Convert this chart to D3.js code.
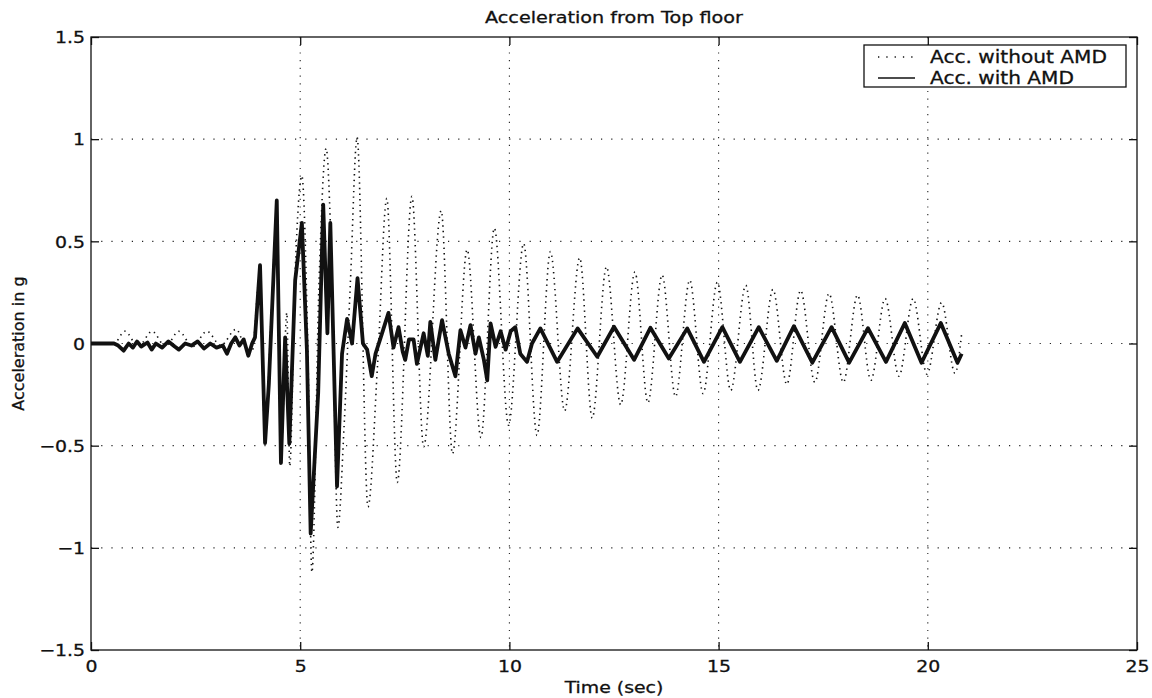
<!DOCTYPE html>
<html>
<head>
<meta charset="utf-8">
<script src="https://cdn.jsdelivr.net/npm/d3@7"></script>
<style>
  body { margin: 0; background: #fff; }
  text { font-family: "DejaVu Sans", sans-serif; fill: #111; stroke: #111; stroke-width: 0.3px; }
</style>
</head>
<body>
<div id="chart"></div>
<script>
// values (time in sec, acceleration in g)
const timeWithout = [0, 0.55, 0.81, 1.13, 1.46, 1.78, 2.10, 2.43, 2.77, 3.10, 3.47, 3.65, 3.85, 4.03, 4.16, 4.30,
  4.44, 4.55, 4.68, 4.75, 4.88, 5.04, 5.18, 5.28, 5.45, 5.62, 5.75, 5.90, 6.05, 6.20, 6.36, 6.62, 6.85, 7.07,
  7.32, 7.67, 7.95, 8.37, 8.64, 8.99, 9.32, 9.64, 9.98, 10.34, 10.66, 10.98, 11.32, 11.68, 11.98, 12.32, 12.66,
  13.00, 13.31, 13.65, 13.97, 14.31, 14.63, 14.97, 15.29, 15.65, 15.94, 16.30, 16.63, 16.96, 17.30, 17.64,
  17.98, 18.32, 18.64, 18.98, 19.31, 19.65, 19.98, 20.33, 20.65, 20.81];
const accWithout = [0, 0, 0.06, -0.015, 0.06, -0.015, 0.06, -0.015, 0.06, -0.01, 0.07, 0.0, -0.04, 0.33, -0.45, 0.1,
  0.62, -0.5, 0.15, -0.6, 0.35, 0.82, 0.0, -1.12, 0.3, 0.955, 0.4, -0.9, -0.4, 0.3, 1.01, -0.80, -0.1, 0.71,
  -0.68, 0.72, -0.505, 0.65, -0.54, 0.46, -0.46, 0.565, -0.40, 0.49, -0.45, 0.45, -0.33, 0.42, -0.365, 0.375, -0.30,
  0.35, -0.29, 0.335, -0.26, 0.31, -0.245, 0.30, -0.23, 0.285, -0.23, 0.265, -0.20, 0.26, -0.19, 0.245,
  -0.19, 0.237, -0.18, 0.22, -0.16, 0.22, -0.15, 0.20, -0.146, 0.05];

const timeWith = [0, 0.55, 0.65, 0.78, 0.90, 1.00, 1.10, 1.20, 1.35, 1.45, 1.55, 1.70, 1.85, 2.00, 2.10, 2.25,
  2.40, 2.55, 2.70, 2.85, 3.00, 3.15, 3.25, 3.35, 3.45, 3.55, 3.65, 3.76, 3.85, 3.92, 4.04, 4.16, 4.25, 4.44,
  4.54, 4.64, 4.74, 4.88, 5.04, 5.16, 5.25, 5.43, 5.55, 5.65, 5.72, 5.88, 6.00, 6.12, 6.24, 6.37, 6.50, 6.60,
  6.71, 6.80, 6.91, 7.11, 7.23, 7.35, 7.45, 7.51, 7.60, 7.71, 7.79, 7.95, 8.05, 8.11, 8.23, 8.39, 8.55, 8.71,
  8.83, 8.95, 9.07, 9.19, 9.27, 9.39, 9.47, 9.55, 9.67, 9.79, 9.91, 10.03, 10.14, 10.26, 10.42, 10.54, 10.74,
  11.14, 11.63, 12.10, 12.50, 12.98, 13.37, 13.81, 14.25, 14.65, 15.09, 15.51, 15.96, 16.39, 16.80, 17.24,
  17.70, 18.12, 18.57, 19.00, 19.45, 19.85, 20.31, 20.71, 20.81];
const accWith = [0, 0, -0.01, -0.035, 0.0, -0.02, 0.01, -0.015, 0.005, -0.03, 0.0, -0.02, 0.01, -0.015, -0.03, 0.0,
  -0.01, 0.01, -0.025, 0.0, -0.02, -0.01, -0.05, 0.0, 0.03, -0.01, 0.02, -0.06, 0.0, 0.03, 0.383, -0.487, -0.2, 0.70,
  -0.585, 0.03, -0.49, 0.31, 0.59, -0.03, -0.93, -0.24, 0.68, 0.05, 0.59, -0.70, -0.05, 0.12, 0.0, 0.32, 0.0, -0.03,
  -0.16, -0.05, 0.02, 0.15, -0.02, 0.08, -0.04, -0.08, 0.02, 0.02, -0.1, 0.05, -0.06, 0.106, -0.08, 0.114, -0.05, -0.16,
  0.065, -0.02, 0.09, -0.05, 0.03, -0.08, -0.18, 0.098, -0.016, 0.06, -0.03, 0.06, 0.08, -0.05, -0.09, 0.0, 0.074,
  -0.09, 0.074, -0.065, 0.082, -0.08, 0.077, -0.073, 0.074, -0.09, 0.08, -0.09, 0.08, -0.085, 0.085, -0.094,
  0.08, -0.094, 0.075, -0.09, 0.10, -0.094, 0.10, -0.094, -0.05];

const xTicks = [0, 5, 10, 15, 20, 25];
const yTicks = [-1.5, -1, -0.5, 0, 0.5, 1, 1.5];
const xGrid = [5, 10, 15, 20];
const yGrid = [-1, -0.5, 0, 0.5, 1];
const legendLabels = ["Acc. without AMD", "Acc. with AMD"];

const width = 1152, height = 698;
const margin = { top: 37, right: 15, bottom: 48, left: 91 };
const stretch = 1.18; // the scanned figure is a bit wider than tall

const svg = d3.select('#chart').append('svg')
  .attr('width', width)
  .attr('height', height);

const x = d3.scaleLinear().domain([0, 25]).range([margin.left, width - margin.right]);
const y = d3.scaleLinear().domain([-1.5, 1.5]).range([height - margin.bottom, margin.top]);

const fmt = d => d < 0 ? "\u2212" + Math.abs(d) : String(d);

// grid
svg.append('g').selectAll('line').data(xGrid).enter().append('line')
  .attr('x1', d => x(d)).attr('x2', d => x(d))
  .attr('y1', y(1.5)).attr('y2', y(-1.5))
  .attr('stroke', '#222').attr('stroke-width', 1.1)
  .attr('stroke-dasharray', '1.2,6.5');
svg.append('g').selectAll('line').data(yGrid).enter().append('line')
  .attr('x1', x(0)).attr('x2', x(25))
  .attr('y1', d => y(d)).attr('y2', d => y(d))
  .attr('stroke', '#222').attr('stroke-width', 1.1)
  .attr('stroke-dasharray', '1.2,9');

// axes, ticks inward like the original
const axBottom = svg.append('g').attr('transform', `translate(0,${y(-1.5)})`)
  .call(d3.axisBottom(x).tickValues(xTicks).tickFormat(fmt).tickSizeInner(-8).tickSizeOuter(0).tickPadding(11));
const axLeft = svg.append('g').attr('transform', `translate(${x(0)},0)`)
  .call(d3.axisLeft(y).tickValues(yTicks).tickFormat(fmt).tickSizeInner(-8).tickSizeOuter(0).tickPadding(5));
const axTop = svg.append('g').attr('transform', `translate(0,${y(1.5)})`)
  .call(d3.axisTop(x).tickValues(xTicks).tickFormat('').tickSizeInner(-8).tickSizeOuter(0));
const axRight = svg.append('g').attr('transform', `translate(${x(25)},0)`)
  .call(d3.axisRight(y).tickValues(yTicks).tickFormat('').tickSizeInner(-8).tickSizeOuter(0));

[axBottom, axLeft, axTop, axRight].forEach(g => {
  g.select('.domain').remove();
  g.selectAll('line').attr('stroke', '#111').attr('stroke-width', 1.3);
  g.selectAll('text').style('font-size', '16px').attr('fill', '#111')
    .attr('font-family', '"DejaVu Sans", sans-serif');
});
axBottom.selectAll('text').attr('transform', `scale(${stretch},1)`);
axLeft.selectAll('text').attr('transform', `scale(${stretch},1)`).attr('dy', '0.36em');

// lines
const lineWithout = d3.line().x(d => x(d[0])).y(d => y(d[1])).curve(d3.curveMonotoneX);
const lineWith = d3.line().x(d => x(d[0])).y(d => y(d[1]));

svg.append('path')
  .datum(timeWithout.map((t, i) => [t, accWithout[i]]))
  .attr('d', lineWithout)
  .attr('fill', 'none').attr('stroke', '#111').attr('stroke-width', 1.6)
  .attr('stroke-dasharray', '1.4,4.2');

svg.append('path')
  .datum(timeWith.map((t, i) => [t, accWith[i]]))
  .attr('d', lineWith)
  .attr('fill', 'none').attr('stroke', '#111').attr('stroke-width', 3.8)
  .attr('stroke-linejoin', 'round');

// frame
svg.append('rect')
  .attr('x', x(0)).attr('y', y(1.5))
  .attr('width', x(25) - x(0)).attr('height', y(-1.5) - y(1.5))
  .attr('fill', 'none').attr('stroke', '#111').attr('stroke-width', 1.3);

// title and labels
svg.append('text')
  .attr('transform', `translate(${(x(0) + x(25)) / 2},23) scale(1.2,1)`)
  .attr('text-anchor', 'middle').style('font-size', '16px')
  .text('Acceleration from Top floor');
svg.append('text')
  .attr('transform', `translate(${(x(0) + x(25)) / 2},693) scale(${stretch},1)`)
  .attr('text-anchor', 'middle').style('font-size', '16px')
  .text('Time (sec)');
svg.append('text')
  .attr('transform', `translate(24,${y(0)}) rotate(-90)`)
  .attr('text-anchor', 'middle').style('font-size', '16px')
  .text('Acceleration in g');

// legend
const legend = svg.append('g').attr('transform', 'translate(864,45)');
legend.append('rect')
  .attr('width', 262).attr('height', 42)
  .attr('fill', '#fff').attr('stroke', '#111').attr('stroke-width', 1.3);
legend.selectAll('line').data(legendLabels).enter().append('line')
  .attr('x1', 14).attr('x2', 51)
  .attr('y1', (d, i) => 12 + i * 21).attr('y2', (d, i) => 12 + i * 21)
  .attr('stroke', '#111')
  .attr('stroke-width', (d, i) => i === 0 ? 1.3 : 1.4)
  .attr('stroke-dasharray', (d, i) => i === 0 ? '1.3,7' : null);
legend.selectAll('text').data(legendLabels).enter().append('text')
  .attr('transform', (d, i) => `translate(66,${18 + i * 21}) scale(1.15,1)`)
  .style('font-size', '17.5px')
  .text(d => d);
</script>
</body>
</html>
